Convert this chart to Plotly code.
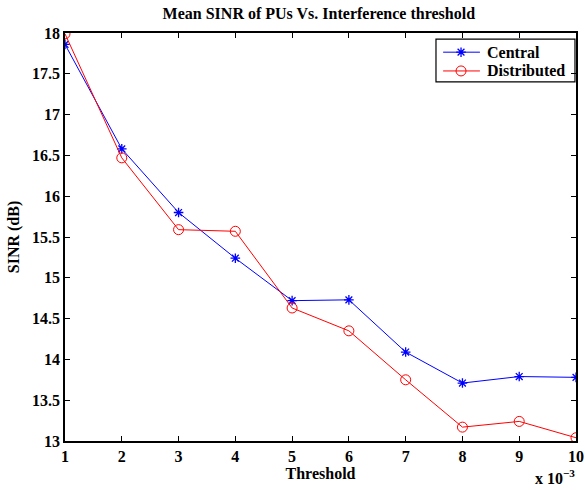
import plotly.graph_objects as go

threshold = [1, 2, 3, 4, 5, 6, 7, 8, 9, 10]
central = [17.86, 16.58, 15.80, 15.24, 14.72, 14.73, 14.09, 13.71, 13.79, 13.78]
distributed = [17.99, 16.47, 15.59, 15.57, 14.63, 14.35, 13.75, 13.17, 13.24, 13.04]
x_ticks = [1, 2, 3, 4, 5, 6, 7, 8, 9, 10]
y_ticks = [13, 13.5, 14, 14.5, 15, 15.5, 16, 16.5, 17, 17.5, 18]
series_names = ["Central", "Distributed"]

FONT = "Liberation Serif"
BLUE = "#0000ff"
RED = "#ff0000"
STAR = dict(symbol="asterisk-open", size=8, color=BLUE, line=dict(color=BLUE, width=1.3))
CIRC = dict(symbol="circle-open", size=10, color=RED, line=dict(color=RED, width=1))

fig = go.Figure()
fig.add_trace(go.Scatter(
    x=threshold, y=central, mode="lines+markers", name=series_names[0],
    line=dict(color=BLUE, width=1), marker=STAR, showlegend=False,
))
fig.add_trace(go.Scatter(
    x=threshold, y=distributed, mode="lines+markers", name=series_names[1],
    line=dict(color=RED, width=1), marker=CIRC, showlegend=False,
))

# --- custom MATLAB-style legend (paper coordinates) ---
leg_x0, leg_x1, leg_y0, leg_y1 = 0.726, 0.998, 0.880, 0.985
row_y = [0.953, 0.907]
line_x0, line_x1, mark_x, text_x = 0.740, 0.812, 0.775, 0.822

fig.add_shape(type="rect", xref="paper", yref="paper", x0=leg_x0, x1=leg_x1, y0=leg_y0, y1=leg_y1,
              line=dict(color="black", width=1.2), fillcolor="white", layer="below")
for ry, col in zip(row_y, [BLUE, RED]):
    fig.add_shape(type="line", xref="paper", yref="paper", x0=line_x0, x1=line_x1, y0=ry, y1=ry,
                  line=dict(color=col, width=1))
fig.add_trace(go.Scatter(x=[mark_x], y=[row_y[0]], xaxis="x2", yaxis="y2", mode="markers",
                         showlegend=False, hoverinfo="skip", marker=STAR))
fig.add_trace(go.Scatter(x=[mark_x], y=[row_y[1]], xaxis="x2", yaxis="y2", mode="markers",
                         showlegend=False, hoverinfo="skip", marker=CIRC))
for ry, name in zip(row_y, series_names):
    fig.add_annotation(text=f"<b>{name}</b>", xref="paper", yref="paper", x=text_x, y=ry,
                       xanchor="left", yanchor="middle", showarrow=False,
                       font=dict(family=FONT, size=16, color="black"))

axis_common = dict(
    showline=True, linecolor="black", linewidth=1.5, mirror="ticks",
    ticks="inside", ticklen=5, tickcolor="black", tickwidth=1,
    showgrid=False, zeroline=False, automargin=False,
    tickfont=dict(family=FONT, size=16, color="black"),
)

fig.update_layout(
    width=585, height=490,
    margin=dict(l=65, r=9, t=33, b=49),
    paper_bgcolor="white", plot_bgcolor="white",
    title=dict(text="<b>Mean SINR of PUs Vs. Interference threshold</b>",
               x=0.545, xanchor="center", y=0.973, yanchor="middle",
               font=dict(family=FONT, size=16, color="black")),
    xaxis=dict(range=[1, 10], tickvals=x_ticks, ticktext=[f"<b>{v}</b>" for v in x_ticks],
               title=dict(text="<b>Threshold</b>", font=dict(family=FONT, size=16, color="black"), standoff=0),
               **axis_common),
    yaxis=dict(range=[13, 18], tickvals=y_ticks, ticktext=[f"<b>{v:g}</b>" for v in y_ticks],
               title=dict(text="<b>SINR (dB)</b>", font=dict(family=FONT, size=16, color="black"), standoff=8),
               **axis_common),
    xaxis2=dict(overlaying="x", range=[0, 1], visible=False, fixedrange=True),
    yaxis2=dict(overlaying="y", range=[0, 1], visible=False, fixedrange=True),
    showlegend=False,
)

fig.add_annotation(
    text="<b>x 10<sup>−3</sup></b>", xref="paper", yref="paper",
    x=1.002, y=-0.088, xanchor="right", yanchor="middle", showarrow=False,
    font=dict(family=FONT, size=16, color="black"),
)

fig.write_html("out.html")
